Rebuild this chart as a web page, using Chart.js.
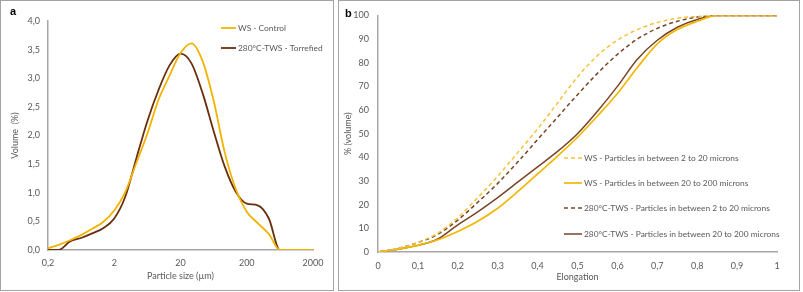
<!DOCTYPE html>
<html>
<head>
<meta charset="utf-8">
<script src="https://cdn.jsdelivr.net/npm/chart.js@4.4.1/dist/chart.umd.min.js"></script>
<style>
  body { margin: 0; background: #fff; width: 803px; height: 292px; position: relative; overflow: hidden; }
  .panel { position: absolute; top: 0; height: 291px; box-sizing: border-box; border: 1px solid #a3a3a3; background: #fff; }
  .panel canvas { position: absolute; left: 0; top: 0; }
  .tag { position: absolute; font: bold 11px 'Liberation Sans', Arial, sans-serif; color: #000; }
</style>
</head>
<body>
<div class="panel" style="left:0;width:334px"><canvas id="psd" width="332" height="289"></canvas></div>
<div class="panel" style="left:338px;width:462px"><canvas id="elong" width="460" height="289"></canvas></div>
<div class="tag" style="left:10px;top:5px">a</div>
<div class="tag" style="left:345px;top:7px">b</div>
<script>
// a : distribution granulométrique (volume %) vs taille de particule (µm, log)
const sizes = [0.2, 0.29, 0.43, 0.63, 0.93, 1.36, 2, 2.93, 4.31, 6.32, 9.28, 13.6, 20, 29.3, 43.1, 63.2,
  92.8, 136, 200, 293, 431, 632, 928, 1360, 2000];
const wsVolume = [0.03, 0.09, 0.17, 0.26, 0.37, 0.49, 0.69, 1.01, 1.52, 2.03, 2.62, 3.04, 3.44, 3.61, 3.30, 2.61,
  1.71, 1.07, 0.67, 0.47, 0.28, 0, 0, 0, 0];
const twsVolume = [0, 0, 0.15, 0.21, 0.29, 0.38, 0.55, 0.93, 1.60, 2.25, 2.79, 3.22, 3.43, 3.26, 2.74, 2.08,
  1.46, 1.02, 0.81, 0.78, 0.55, 0, 0, 0, 0];
const sizeTicks = [0.2, 2, 20, 200, 2000];
const volumeTicks = [0, 0.5, 1, 1.5, 2, 2.5, 3, 3.5, 4];

// b : élongation cumulée (% volume)
const elongation = [0, 0.05, 0.1, 0.15, 0.2, 0.25, 0.3, 0.35, 0.4, 0.45, 0.5, 0.55, 0.6, 0.65, 0.7, 0.75, 0.8, 0.85, 0.9, 0.95, 1];
const ws2to20 = [0, 1.5, 4, 8, 14.5, 23, 32, 42, 52, 63, 74, 83, 89.5, 94, 97, 98.8, 99.6, 100, 100, 100, 100];
const ws20to200 = [0, 1.2, 2.8, 5.2, 8.7, 13, 18.5, 25.5, 33, 40.5, 48.5, 57.5, 67, 78, 88, 94, 97.5, 100, 100, 100, 100];
const tws2to20 = [0, 1.5, 4, 7.5, 13.5, 21, 29, 38, 47.5, 57, 66.5, 75.5, 83.5, 90, 94.5, 97.5, 99.3, 100, 100, 100, 100];
const tws20to200 = [0, 1.2, 2.8, 5.5, 11.5, 17, 23, 29.5, 36, 42.5, 50, 59.5, 70, 81.5, 89.5, 95, 98.3, 100, 100, 100, 100];

const FONT = 'Lato, "Liberation Sans", sans-serif';
const GREY = '#595959';
const AXIS = '#a6a6a6';
const comma = (v) => String(v).replace('.', ',');

// légende dessinée dans la zone du graphique
const insideLegend = {
  id: 'insideLegend',
  afterDraw(chart, args, o) {
    const ctx = chart.ctx;
    ctx.save();
    ctx.font = `${o.size}px ${FONT}`;
    ctx.fillStyle = GREY;
    ctx.textBaseline = 'middle';
    chart.data.datasets.forEach((ds, i) => {
      const y = o.rows[i];
      ctx.strokeStyle = ds.borderColor;
      ctx.lineWidth = ds.borderWidth;
      ctx.setLineDash(ds.borderDash || []);
      ctx.beginPath(); ctx.moveTo(o.x, y); ctx.lineTo(o.x + o.sample, y); ctx.stroke();
      ctx.fillText(ds.label, o.x + o.sample + 2, y);
    });
    ctx.restore();
  }
};

function axisStyle(extra) {
  return Object.assign({
    grid: { display: false, drawTicks: false },
    border: { display: true, color: AXIS, width: 1.5 },
  }, extra);
}
const tickFont = { family: FONT, size: 9 };

new Chart(document.getElementById('psd'), {
  type: 'line',
  data: {
    datasets: [
      { label: 'WS - Control', data: sizes.map((x, i) => ({ x, y: wsVolume[i] })), borderColor: '#f2b300', borderWidth: 1.8 },
      { label: '280°C-TWS - Torrefied', data: sizes.map((x, i) => ({ x, y: twsVolume[i] })), borderColor: '#6b2e0c', borderWidth: 1.8 },
    ],
  },
  options: {
    responsive: false, animation: false,
    layout: { padding: { top: 20, right: 20, left: 0, bottom: 0 } },
    elements: { point: { radius: 0 }, line: { cubicInterpolationMode: 'monotone' } },
    plugins: { legend: { display: false }, tooltip: { enabled: false },
      insideLegend: { x: 220, rows: [27, 47], sample: 15, size: 8.4 } },
    scales: {
      x: axisStyle({
        type: 'logarithmic', min: 0.2, max: 2000,
        afterBuildTicks: (s) => { s.ticks = sizeTicks.map((value) => ({ value })); },
        afterFit: (s) => { s.height = 40; },
        ticks: { color: GREY, font: tickFont, padding: 8, autoSkip: false, maxRotation: 0, callback: (v) => comma(v) },
        title: { display: true, text: 'Particle size (µm)', color: GREY, font: tickFont, padding: { top: 0, bottom: 8.6 } },
      }),
      y: axisStyle({
        min: 0, max: 4,
        afterBuildTicks: (s) => { s.ticks = volumeTicks.map((value) => ({ value })); },
        afterFit: (s) => { s.width = 47; },
        ticks: { color: GREY, font: tickFont, padding: 8, callback: (v) => comma(v.toFixed(1)) },
        title: { display: true, text: 'Volume  (%)', color: GREY, font: tickFont, padding: { top: 9, bottom: 0 } },
      }),
    },
  },
  plugins: [insideLegend],
});

const brown = '#7a4526';
const gold = '#f2b705';
new Chart(document.getElementById('elong'), {
  type: 'line',
  data: {
    datasets: [
      { label: 'WS - Particles in between 2 to 20 microns', data: elongation.map((x, i) => ({ x, y: ws2to20[i] })), borderColor: '#f5c33b', borderWidth: 1.5, borderDash: [4, 3] },
      { label: 'WS - Particles in between 20 to 200 microns', data: elongation.map((x, i) => ({ x, y: ws20to200[i] })), borderColor: gold, borderWidth: 1.7 },
      { label: '280°C-TWS - Particles in between 2 to 20 microns', data: elongation.map((x, i) => ({ x, y: tws2to20[i] })), borderColor: brown, borderWidth: 1.5, borderDash: [4, 3] },
      { label: '280°C-TWS - Particles in between 20 to 200 microns', data: elongation.map((x, i) => ({ x, y: tws20to200[i] })), borderColor: brown, borderWidth: 1.5 },
    ],
  },
  options: {
    responsive: false, animation: false,
    layout: { padding: { top: 12, right: 22, left: 0, bottom: 0 } },
    elements: { point: { radius: 0 }, line: { cubicInterpolationMode: 'monotone' } },
    plugins: { legend: { display: false }, tooltip: { enabled: false },
      insideLegend: { x: 225, rows: [157, 182, 207, 233], sample: 18, size: 8.4 } },
    scales: {
      x: axisStyle({
        type: 'linear', min: 0, max: 1,
        afterFit: (s) => { s.height = 38; },
        ticks: { color: GREY, font: tickFont, padding: 8.5, stepSize: 0.1, autoSkip: false, maxRotation: 0,
          callback: (v) => comma(Math.round(v * 10) / 10) },
        title: { display: true, text: 'Elongation', color: GREY, font: tickFont, padding: { top: 0, bottom: 7.6 } },
      }),
      y: axisStyle({
        min: 0, max: 100,
        afterFit: (s) => { s.width = 39; },
        ticks: { color: GREY, font: tickFont, padding: 9, stepSize: 10 },
        title: { display: true, text: '% (volume)', color: GREY, font: tickFont, padding: { top: 4, bottom: 0 } },
      }),
    },
  },
  plugins: [insideLegend],
});
</script>
</body>
</html>
